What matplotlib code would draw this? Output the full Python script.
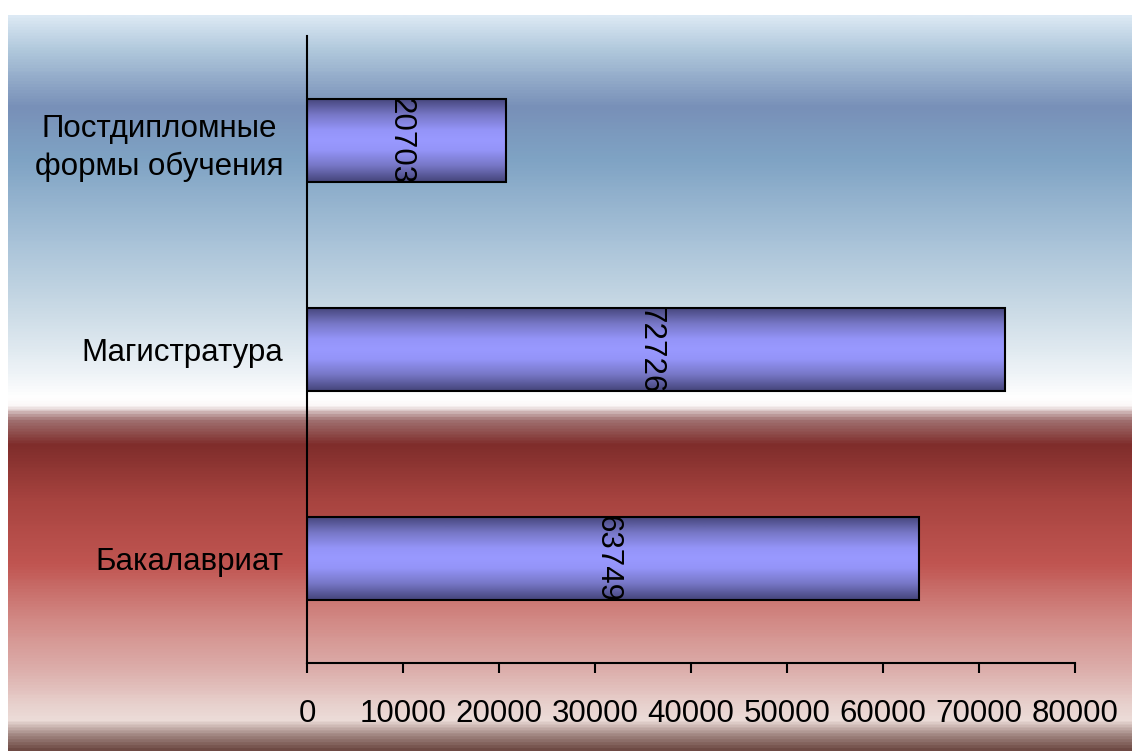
import numpy as np
import matplotlib.pyplot as plt
from matplotlib.colors import LinearSegmentedColormap

categories = ['Бакалавриат', 'Магистратура', 'Постдипломные\nформы обучения']
values = [63749, 72726, 20703]
xticks = [0, 10000, 20000, 30000, 40000, 50000, 60000, 70000, 80000]

plt.rcParams['font.family'] = ['Liberation Sans', 'DejaVu Sans']

W, H = 1132, 751
fig = plt.figure(figsize=(W / 100, H / 100), dpi=100)
fig.patch.set_facecolor('white')

# background gradient (pixel rows from top, colour)
stops = [(15, '#dce9f4'), (48, '#b0c8dc'), (105, '#7890b8'), (158, '#7fa3c4'),
         (240, '#a8c2d8'), (311, '#cbdbe6'), (373, '#eef3f7'), (397, '#ffffff'),
         (405, '#fbf7f7'), (421, '#a07070'), (445, '#7f2d2b'), (502, '#a84440'),
         (565, '#c05551'), (622, '#d28a86'), (670, '#dcadaa'), (708, '#e8d2ce'),
         (722, '#ecdcd8'), (737, '#a08580'), (751, '#6e4a44')]
bg_cmap = LinearSegmentedColormap.from_list(
    'bg', [((y - 15) / (751 - 15), c) for y, c in stops])
bg = fig.add_axes([8 / W, 0, 1 - 8 / W, 1 - 15 / H])
bg.imshow(np.linspace(0, 1, 500).reshape(-1, 1), cmap=bg_cmap, aspect='auto',
          extent=[0, 1, 0, 1], origin='upper')
bg.axis('off')

ax = fig.add_axes([307 / W, 1 - 663 / H, (1075 - 307) / W, (663 - 36) / H])
ax.patch.set_alpha(0)

bar_cmap = LinearSegmentedColormap.from_list(
    'bar', [(0, '#45457a'), (0.2, '#7878c8'), (0.38, '#9494f8'), (0.5, '#9999ff'),
            (0.62, '#9494f8'), (0.8, '#7878c8'), (1, '#45457a')])
grad = np.linspace(0, 1, 200).reshape(-1, 1)

bh = 0.4
bars = ax.barh(range(len(categories)), values, height=bh, facecolor='none',
               edgecolor='black', linewidth=1.5, zorder=3)
for i, (b, v) in enumerate(zip(bars, values)):
    im = ax.imshow(grad, cmap=bar_cmap, aspect='auto',
                   extent=[0, v, i - bh / 2, i + bh / 2], zorder=2)
    im.set_clip_path(b)
    t = ax.text(v / 2 - 600, i, str(v), rotation=270, ha='center', va='center',
                fontsize=22.5, zorder=4)
    t.set_clip_path(b)

ax.set_xlim(0, 80000)
ax.set_ylim(-0.5, 2.5)
ax.set_xticks(xticks)
ax.set_xticklabels([str(x) for x in xticks])
ax.set_yticks(range(len(categories)))
ax.set_yticklabels(categories, multialignment='center', linespacing=1.35)

for s in ['top', 'right']:
    ax.spines[s].set_visible(False)
for s in ['left', 'bottom']:
    ax.spines[s].set_linewidth(1.5)
ax.tick_params(axis='x', direction='out', length=7, width=1.5, pad=19, labelsize=22.5)
ax.tick_params(axis='y', length=0, pad=17, labelsize=22.5)

fig.savefig('out.png', dpi=100)
